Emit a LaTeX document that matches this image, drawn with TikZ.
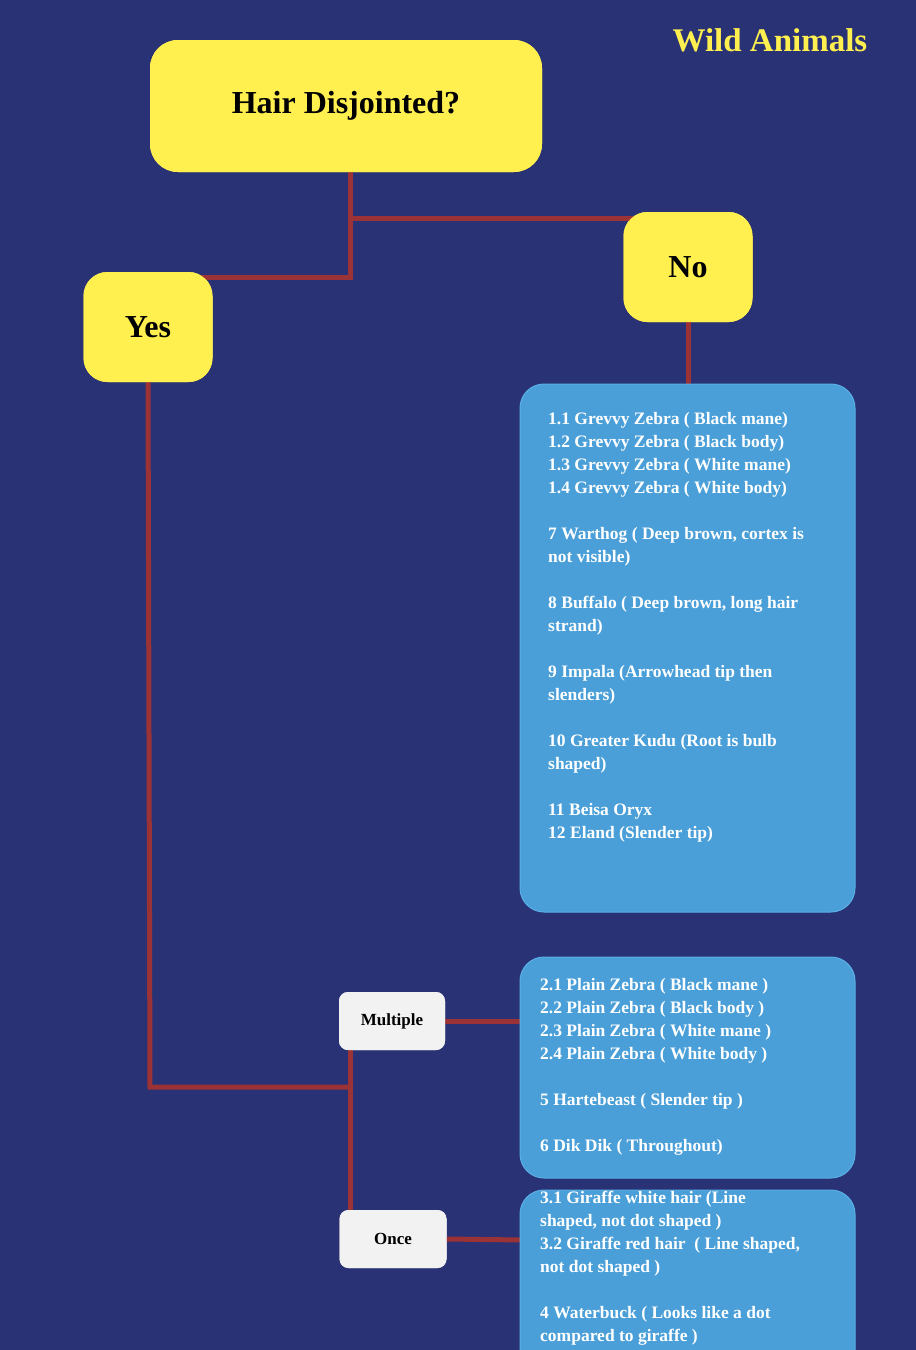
\documentclass[tikz,border=0pt]{standalone}
\usepackage{fontspec}
\setmainfont{Liberation Serif}
\definecolor{bg}{HTML}{283274}
\definecolor{yel}{HTML}{FFEF4F}
\definecolor{bx}{HTML}{4A9FD8}
\definecolor{bxb}{HTML}{5AAFE6}
\definecolor{ln}{HTML}{9B3236}
\definecolor{wh}{HTML}{F2F2F2}
\begin{document}
\begin{tikzpicture}[x=1pt,y=-1pt,
  yb/.style={fill=yel,rounded corners=28pt,inner sep=0pt,font=\bfseries\fontsize{32}{36}\selectfont,text=black},
  wb/.style={fill=wh,rounded corners=9pt,inner sep=0pt,font=\bfseries\fontsize{17}{20}\selectfont,text=black},
  bb/.style={fill=bx,draw=bxb,line width=1pt,rounded corners=24pt},
  tx/.style={anchor=north west,align=left,text=white,inner sep=0pt,font=\bfseries\fontsize{17.5}{23}\selectfont},
  con/.style={draw=ln,line width=5pt}]
\useasboundingbox (0,0) rectangle (916,1350);
\fill[bg] (0,0) rectangle (916,1350);
\node[text=yel,font=\bfseries\fontsize{33}{36}\selectfont] (title) at (770,40) {Wild Animals};
\node[yb,minimum width=392pt,minimum height=132pt] (hair) at (346,106) {Hair Disjointed?};
\node[yb,minimum width=129pt,minimum height=110pt,rounded corners=24pt] (no) at (688,267) {No};
\node[yb,minimum width=129pt,minimum height=110pt,rounded corners=24pt] (yes) at (148,327) {Yes};
\node[wb,minimum width=106pt,minimum height=58pt] (mult) at (392,1021) {Multiple};
\node[wb,minimum width=107pt,minimum height=58pt] (once) at (393,1239) {Once};
\coordinate (j1) at (350,218);
\coordinate (j2) at (350,1087);
\begin{scope}[on background layer/.style={}]
\draw[con] (hair.south -| j1) -- (j1) -- (no.north west |- j1) -- ++(20,0);
\draw[con] (j1) -- (350,277) -- (190,277);
\draw[con] (no.south) -- (688,386);
\draw[con] (yes.south) -- (150,1087) -- (j2);
\draw[con] (350,1050) -- (once.north -| j2);
\draw[con] (mult.east) -- (522,1021);
\draw[con] (once.east) -- (522,1240);
\end{scope}
\node[yb,minimum width=392pt,minimum height=132pt] at (hair) {Hair Disjointed?};
\node[yb,minimum width=129pt,minimum height=110pt,rounded corners=24pt] at (no) {No};
\node[yb,minimum width=129pt,minimum height=110pt,rounded corners=24pt] at (yes) {Yes};
\node[wb,minimum width=106pt,minimum height=58pt] at (mult) {Multiple};
\node[wb,minimum width=107pt,minimum height=58pt] at (once) {Once};
\path[bb] (520,384) rectangle (855,912);
\path[bb] (520,957) rectangle (855,1178);
\path[bb] (520,1190) rectangle (855,1380);
\node[tx] (t1) at (548,412) {1.1 Grevvy Zebra ( Black mane)\\1.2 Grevvy Zebra ( Black body)\\1.3 Grevvy Zebra ( White mane)\\1.4 Grevvy Zebra ( White body)\\[23pt]7 Warthog ( Deep brown, cortex is\\not visible)\\[23pt]8 Buffalo ( Deep brown, long hair\\strand)\\[23pt]9 Impala (Arrowhead tip then\\slenders)\\[23pt]10 Greater Kudu (Root is bulb\\shaped)\\[23pt]11 Beisa Oryx\\12 Eland (Slender tip)};
\node[tx] (t2) at (540,978) {2.1 Plain Zebra ( Black mane )\\2.2 Plain Zebra ( Black body )\\2.3 Plain Zebra ( White mane )\\2.4 Plain Zebra ( White body )\\[23pt]5 Hartebeast ( Slender tip )\\[23pt]6 Dik Dik ( Throughout)};
\node[tx] (t3) at (540,1191) {3.1 Giraffe white hair (Line\\shaped, not dot shaped )\\3.2 Giraffe red hair\ \ ( Line shaped,\\not dot shaped )\\[23pt]4 Waterbuck ( Looks like a dot\\compared to giraffe )};
\end{tikzpicture}
\end{document}
